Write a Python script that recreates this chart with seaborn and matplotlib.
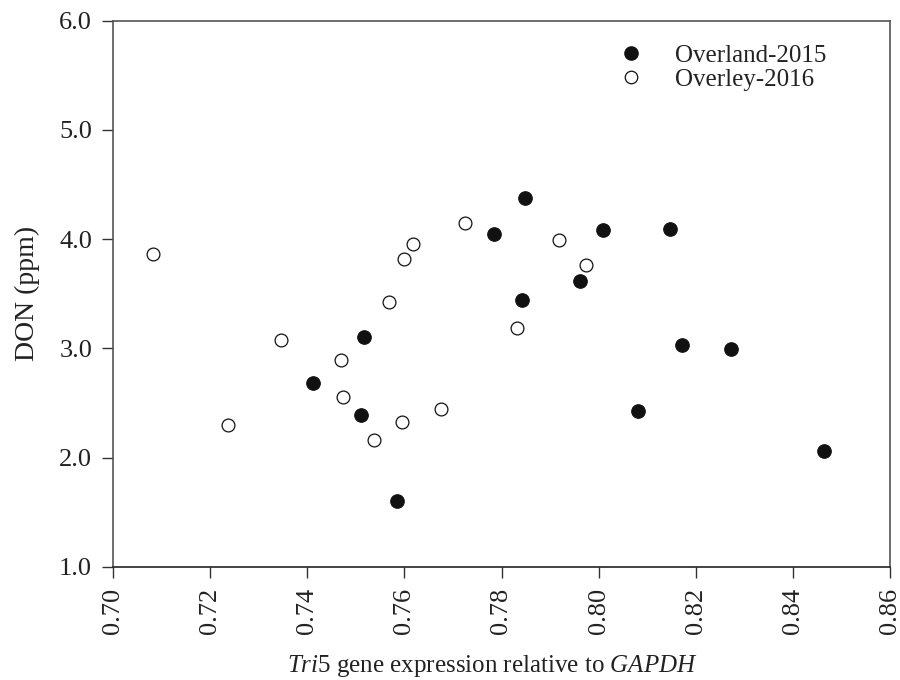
import matplotlib
matplotlib.use("Agg")
import matplotlib.pyplot as plt
import seaborn as sns
import pandas as pd
from matplotlib.lines import Line2D

# Data
overland_x = [0.7412, 0.7517, 0.7510, 0.7585, 0.7784, 0.7848, 0.7842, 0.7962,
              0.8009, 0.8082, 0.8148, 0.8172, 0.8273, 0.8465]
overland_y = [2.685, 3.106, 2.392, 1.604, 4.044, 4.376, 3.442, 3.619,
              4.080, 2.423, 4.092, 3.030, 2.991, 2.057]
overley_x = [0.7082, 0.7236, 0.7345, 0.7469, 0.7473, 0.7537, 0.7596, 0.7569,
             0.7599, 0.7617, 0.7675, 0.7725, 0.7831, 0.7919, 0.7975]
overley_y = [3.863, 2.295, 3.073, 2.893, 2.554, 2.160, 2.322, 3.421,
             3.815, 3.958, 2.441, 4.147, 3.183, 3.992, 3.760]
series_names = ["Overland-2015", "Overley-2016"]
x_ticks = [0.70, 0.72, 0.74, 0.76, 0.78, 0.80, 0.82, 0.84, 0.86]
y_ticks = [1.0, 2.0, 3.0, 4.0, 5.0, 6.0]

sns.set_style("ticks")
plt.rcParams["font.family"] = ["Liberation Serif", "DejaVu Serif"]
plt.rcParams["mathtext.fontset"] = "custom"
plt.rcParams["mathtext.rm"] = "Liberation Serif"
plt.rcParams["mathtext.it"] = "Liberation Serif:italic"

df1 = pd.DataFrame({"x": overland_x, "y": overland_y})
df2 = pd.DataFrame({"x": overley_x, "y": overley_y})

fig = plt.figure(figsize=(9, 6.8), dpi=100)
ax = fig.add_axes([113/900, 1-566.7/680, (890-113)/900, (566.7-20.7)/680])

sns.scatterplot(data=df1, x="x", y="y", ax=ax, color="#111111", edgecolor="#111111",
                s=95, linewidth=0.8, zorder=3)
sns.scatterplot(data=df2, x="x", y="y", ax=ax, color="white", edgecolor="#111111",
                s=85, linewidth=0.9, zorder=3)

ax.set_xlim(0.70, 0.86)
ax.set_ylim(1.0, 6.0)
ax.set_xticks(x_ticks)
ax.set_yticks(y_ticks)
ax.set_xticklabels([f"{v:.2f}" for v in x_ticks], rotation=90)
ax.set_yticklabels([f"{v:.1f}" for v in y_ticks])
ax.tick_params(axis="both", direction="out", length=8, width=1, labelsize=19,
               colors="#333333", labelcolor="#222222", pad=7)
for sp in ax.spines.values():
    sp.set_visible(True)
    sp.set_color("#555555")
    sp.set_linewidth(1.2)
ax.spines["bottom"].set_color("#222222")

ax.set_xlabel(r"$\it{Tri}$5 gene expression relative to $\it{GAPDH}$",
              fontsize=18, color="#222222", va="top")
ax.xaxis.set_label_coords((492-113)/777, -0.158)
ax.set_ylabel("DON (ppm)", fontsize=20, color="#222222", labelpad=14)

handles = [
    Line2D([], [], marker="o", linestyle="none", markersize=9.5,
           markerfacecolor="#111111", markeredgecolor="#111111"),
    Line2D([], [], marker="o", linestyle="none", markersize=9,
           markerfacecolor="white", markeredgecolor="#111111", markeredgewidth=0.9),
]
ax.legend(handles, series_names, frameon=False, fontsize=18,
          loc="upper left", bbox_to_anchor=(608/900, 1-32/680),
          bbox_transform=fig.transFigure, handletextpad=1.4,
          labelspacing=0.05, borderpad=0, handlelength=0.8,
          labelcolor="#222222")

fig.savefig("out.png", dpi=100)
